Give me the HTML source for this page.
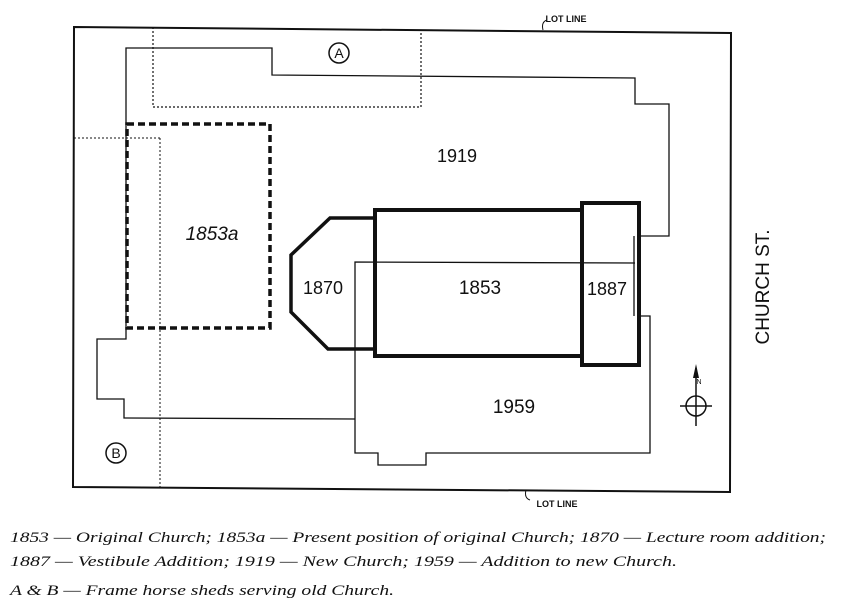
<!DOCTYPE html>
<html><head><style>html,body{margin:0;padding:0;background:#fff}svg{display:block}</style></head>
<body>
<svg width="841" height="615" viewBox="0 0 841 615" xmlns="http://www.w3.org/2000/svg">
<rect width="841" height="615" fill="#fff"/>
<g fill="none" stroke="#111">
<polygon points="74,27 731,33 730,492 73,487" stroke-width="2"/>
<polyline points="153,27 153,107 421,107 421,32" stroke-width="1.2" stroke-dasharray="2,2"/>
<polyline points="74,138 160,138" stroke-width="1" stroke-dasharray="2,2"/>
<polyline points="160,138 160,488" stroke-width="1" stroke-dasharray="2,2"/>
<polyline points="355,419 124,418 124,399 97,399 97,339 126,339 126,48 272,48 272,75 635,78 635,104 669,104 669,236 640,236" stroke-width="1.3"/>
<line x1="634" y1="236" x2="634" y2="316" stroke-width="1.3"/>
<polyline points="640,316 650,316 650,453 426,453 426,465 378,465 378,453 355,453 355,262 635,263" stroke-width="1.3"/>
<rect x="127" y="124" width="143" height="204" stroke-width="3.5" stroke-dasharray="7,4"/>
<polyline points="373,218 330,218 291,255 291,312 328,349 373,349" stroke-width="3.5"/>
<rect x="375" y="210" width="207" height="146" stroke-width="4"/>
<rect x="582" y="203" width="57" height="162" stroke-width="4"/>
<circle cx="696" cy="406" r="10" stroke-width="1.5"/>
<line x1="680" y1="406" x2="712" y2="406" stroke-width="1.5"/>
<line x1="696" y1="368" x2="696" y2="426" stroke-width="1.5"/>
<circle cx="339" cy="53" r="10" stroke-width="1.5"/>
<circle cx="116" cy="453" r="10" stroke-width="1.5"/>
<path d="M543,30 q-2,-8 4,-10" stroke-width="1"/>
<path d="M526,490 q-2,8 4,10" stroke-width="1"/>
</g>
<polygon points="696,364 693,378 699,378" fill="#111"/>
<g font-family="'Liberation Sans', sans-serif" fill="#111" text-anchor="middle">
<text x="457" y="162" font-size="18">1919</text>
<text x="212" y="240" font-size="19" font-style="italic">1853a</text>
<text x="323" y="294" font-size="18">1870</text>
<text x="480" y="294" font-size="19">1853</text>
<text x="607" y="295" font-size="18">1887</text>
<text x="514" y="413" font-size="19">1959</text>
<text x="339" y="58" font-size="14">A</text>
<text x="116" y="458" font-size="14">B</text>
<text x="699" y="384" font-size="7">N</text>
<text x="566" y="22" font-size="9" font-weight="bold">LOT LINE</text>
<text x="557" y="507" font-size="9" font-weight="bold">LOT LINE</text>
<text transform="translate(769,287) rotate(-90)" font-size="19">CHURCH ST.</text>
</g>
<g font-family="'Liberation Serif', serif" font-style="italic" font-size="15" fill="#111">
<text x="10" y="542" textLength="816" lengthAdjust="spacingAndGlyphs">1853 — Original Church; 1853a — Present position of original Church; 1870 — Lecture room addition;</text>
<text x="10" y="566" textLength="667" lengthAdjust="spacingAndGlyphs">1887 — Vestibule Addition; 1919 — New Church; 1959 — Addition to new Church.</text>
<text x="10" y="595" textLength="384" lengthAdjust="spacingAndGlyphs">A &amp; B — Frame horse sheds serving old Church.</text>
</g>
</svg>
</body></html>
